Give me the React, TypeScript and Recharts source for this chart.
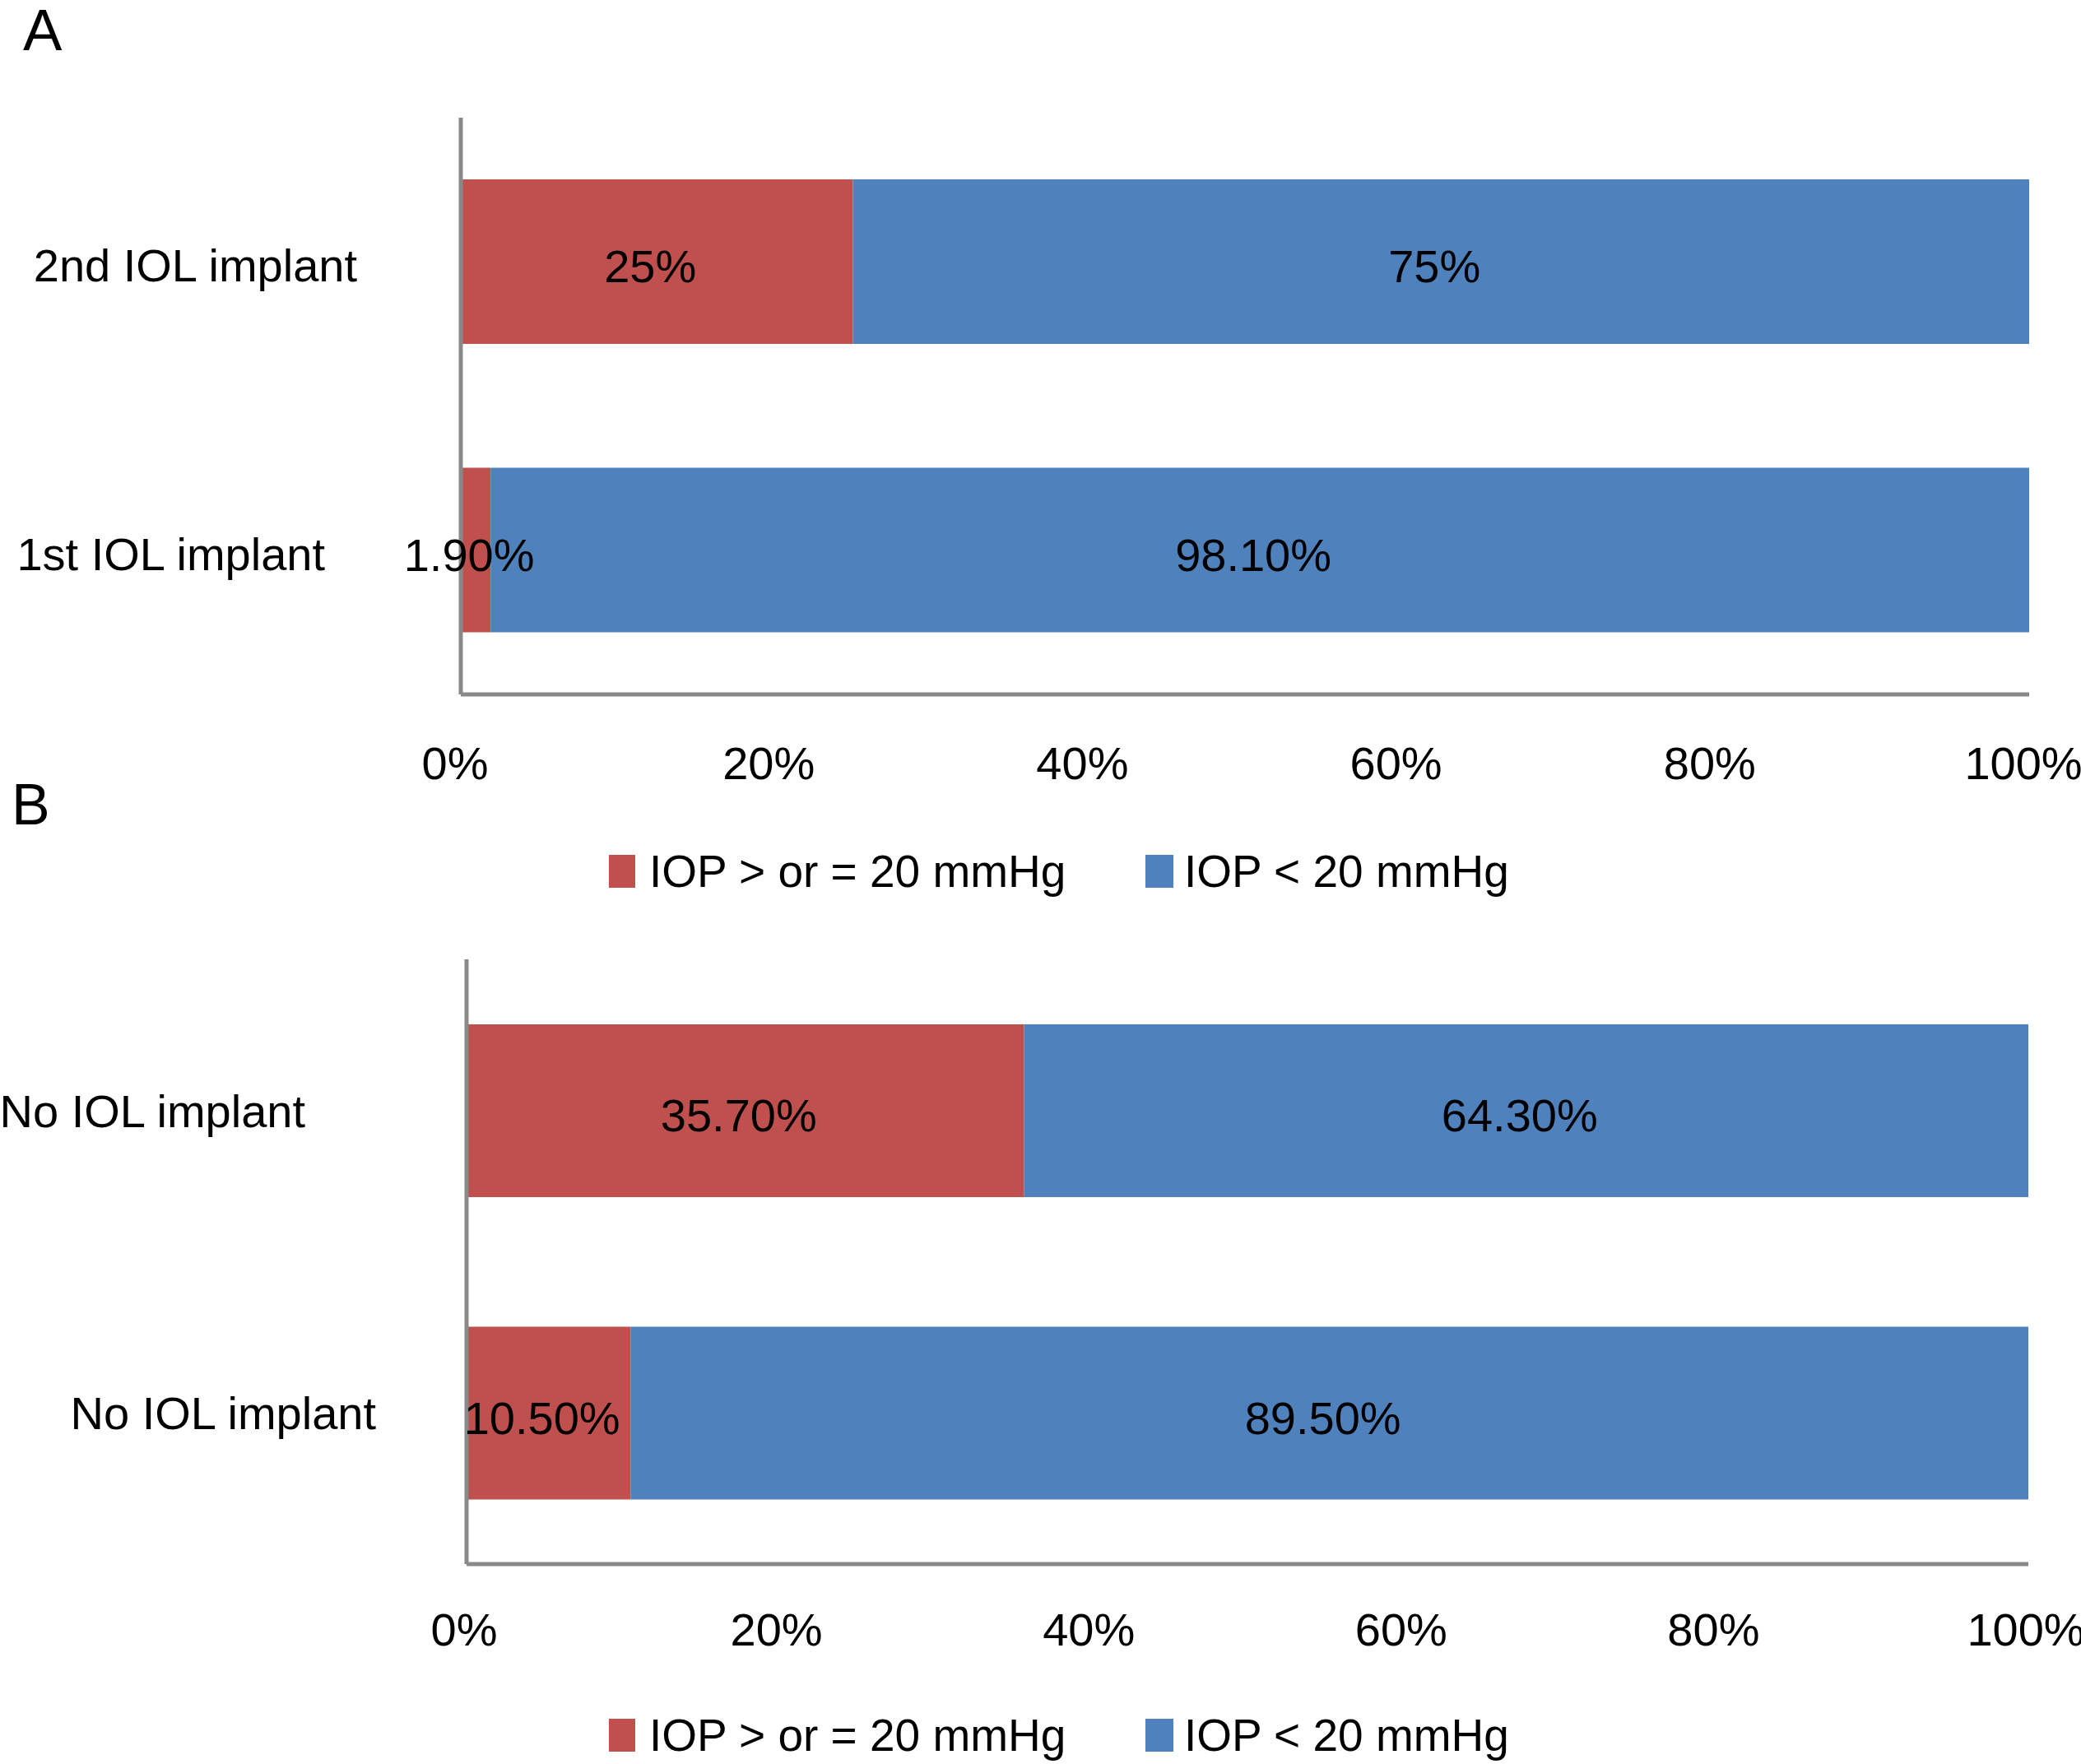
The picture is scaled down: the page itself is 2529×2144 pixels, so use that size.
import React from 'react';
import { BarChart, Bar, XAxis, YAxis, LabelList, Legend } from 'recharts';

const categoriesA = ['2nd IOL implant', '1st IOL implant'];
const highA = [25, 1.9];
const lowA = [75, 98.1];

const categoriesB = ['No IOL implant', 'No IOL implant'];
const highB = [35.7, 10.5];
const lowB = [64.3, 89.5];

const xTicks = [0, 20, 40, 60, 80, 100];
const seriesNames = ['IOP > or = 20 mmHg', 'IOP < 20 mmHg'];

const RED = '#C0504D';
const BLUE = '#4F81BD';
const AXIS = '#898989';
const FONT = '"Liberation Sans", Arial, Helvetica, sans-serif';
const FS = 56;

const buildRows = (cats: string[], high: number[], low: number[]) =>
  cats.map((c, i) => ({ id: `${i}`, name: c, high: high[i], low: low[i] }));

const dataA = buildRows(categoriesA, highA, lowA);
const dataB = buildRows(categoriesB, highB, lowB);

const fmt = (v: number) => (Number.isInteger(v) ? `${v}%` : `${v.toFixed(2)}%`);

const makeYTick = (labels: string[], dxs: number[], dys: number[]) => (props: any) => {
  const { x, y, payload } = props;
  const i = payload.index ?? 0;
  return (
    <text
      x={x + dxs[i]}
      y={y + dys[i]}
      dy="0.355em"
      textAnchor="end"
      fill="#000"
      fontSize={FS}
      fontFamily={FONT}
    >
      {labels[i]}
    </text>
  );
};

const makeXTick = (dx: number) => (props: any) => {
  const { x, y, payload } = props;
  return (
    <text x={x + dx} y={y} dy="0.71em" textAnchor="middle" fill="#000" fontSize={FS} fontFamily={FONT}>
      {`${payload.value}%`}
    </text>
  );
};

const segLabel = (props: any) => {
  const { x, y, width, height, value } = props;
  return (
    <text
      x={x + width / 2 - 8}
      y={y + height / 2 + 25}
      textAnchor="middle"
      fill="#000"
      fontSize={FS}
      fontFamily={FONT}
    >
      {fmt(value)}
    </text>
  );
};

const LegendContent = () => (
  <div style={{ position: 'relative', width: 2529, height: 60, fontFamily: FONT, fontSize: 55, color: '#000' }}>
    <div style={{ position: 'absolute', left: 740, top: 10, width: 32, height: 40, background: RED }} />
    <div style={{ position: 'absolute', left: 789, top: 0, lineHeight: '60px', whiteSpace: 'nowrap' }}>{seriesNames[0]}</div>
    <div style={{ position: 'absolute', left: 1392, top: 10, width: 34, height: 40, background: BLUE }} />
    <div style={{ position: 'absolute', left: 1439, top: 0, lineHeight: '60px', whiteSpace: 'nowrap' }}>{seriesNames[1]}</div>
  </div>
);

type PanelProps = {
  data: any[];
  labels: string[];
  width: number;
  height: number;
  axisX: number;
  margin: any;
  barSize: number;
  yDx: number[];
  yDy: number[];
  xDx: number;
  tickMargin: number;
  legendTop: number;
};

const Panel = (p: PanelProps) => (
  <BarChart
    width={p.width}
    height={p.height}
    data={p.data}
    layout="vertical"
    margin={p.margin}
    barSize={p.barSize}
  >
    <Bar dataKey="high" stackId="s" fill={RED} isAnimationActive={false} name={seriesNames[0]}>
      <LabelList dataKey="high" content={segLabel} />
    </Bar>
    <Bar dataKey="low" stackId="s" fill={BLUE} isAnimationActive={false} name={seriesNames[1]}>
      <LabelList dataKey="low" content={segLabel} />
    </Bar>
    <XAxis
      type="number"
      domain={[0, 100]}
      ticks={xTicks}
      interval={0}
      height={100}
      axisLine={{ stroke: AXIS, strokeWidth: 5 }}
      tickLine={false}
      tickSize={0}
      tickMargin={p.tickMargin}
      tick={makeXTick(p.xDx)}
    />
    <YAxis
      type="category"
      dataKey="id"
      width={p.axisX}
      axisLine={{ stroke: AXIS, strokeWidth: 5 }}
      tickLine={false}
      tickSize={0}
      tickMargin={0}
      interval={0}
      tick={makeYTick(p.labels, p.yDx, p.yDy)}
    />
    <Legend
      layout="horizontal"
      verticalAlign="middle"
      align="center"
      content={() => <LegendContent />}
      wrapperStyle={{ top: p.legendTop, left: 0, width: 2529, height: 60 }}
    />
  </BarChart>
);

export default function App() {
  return (
    <div
      style={{
        position: 'absolute',
        left: 0,
        top: 0,
        width: 2529,
        height: 2144,
        background: '#fff',
        fontFamily: FONT,
        overflow: 'hidden',
      }}
    >
      <div style={{ position: 'absolute', left: 0, top: 0 }}>
        <Panel
          data={dataA}
          labels={categoriesA}
          width={2529}
          height={1100}
          axisX={560}
          margin={{ top: 143, right: 63, left: 0, bottom: 156 }}
          barSize={200}
          yDx={[-126, -165]}
          yDy={[4, 4]}
          xDx={-7}
          tickMargin={63}
          legendTop={1029}
        />
      </div>
      <div style={{ position: 'absolute', left: 0, top: 1100 }}>
        <Panel
          data={dataB}
          labels={categoriesB}
          width={2529}
          height={1044}
          axisX={567}
          margin={{ top: 66, right: 64, left: 0, bottom: 143 }}
          barSize={210}
          yDx={[-196, -110]}
          yDy={[0, 0]}
          xDx={-3}
          tickMargin={59}
          legendTop={979}
        />
      </div>
      <div style={{ position: 'absolute', left: 28, top: 1, fontSize: 71, lineHeight: '71px', color: '#000' }}>A</div>
      <div style={{ position: 'absolute', left: 14, top: 943, fontSize: 70, lineHeight: '70px', color: '#000' }}>B</div>
    </div>
  );
}
